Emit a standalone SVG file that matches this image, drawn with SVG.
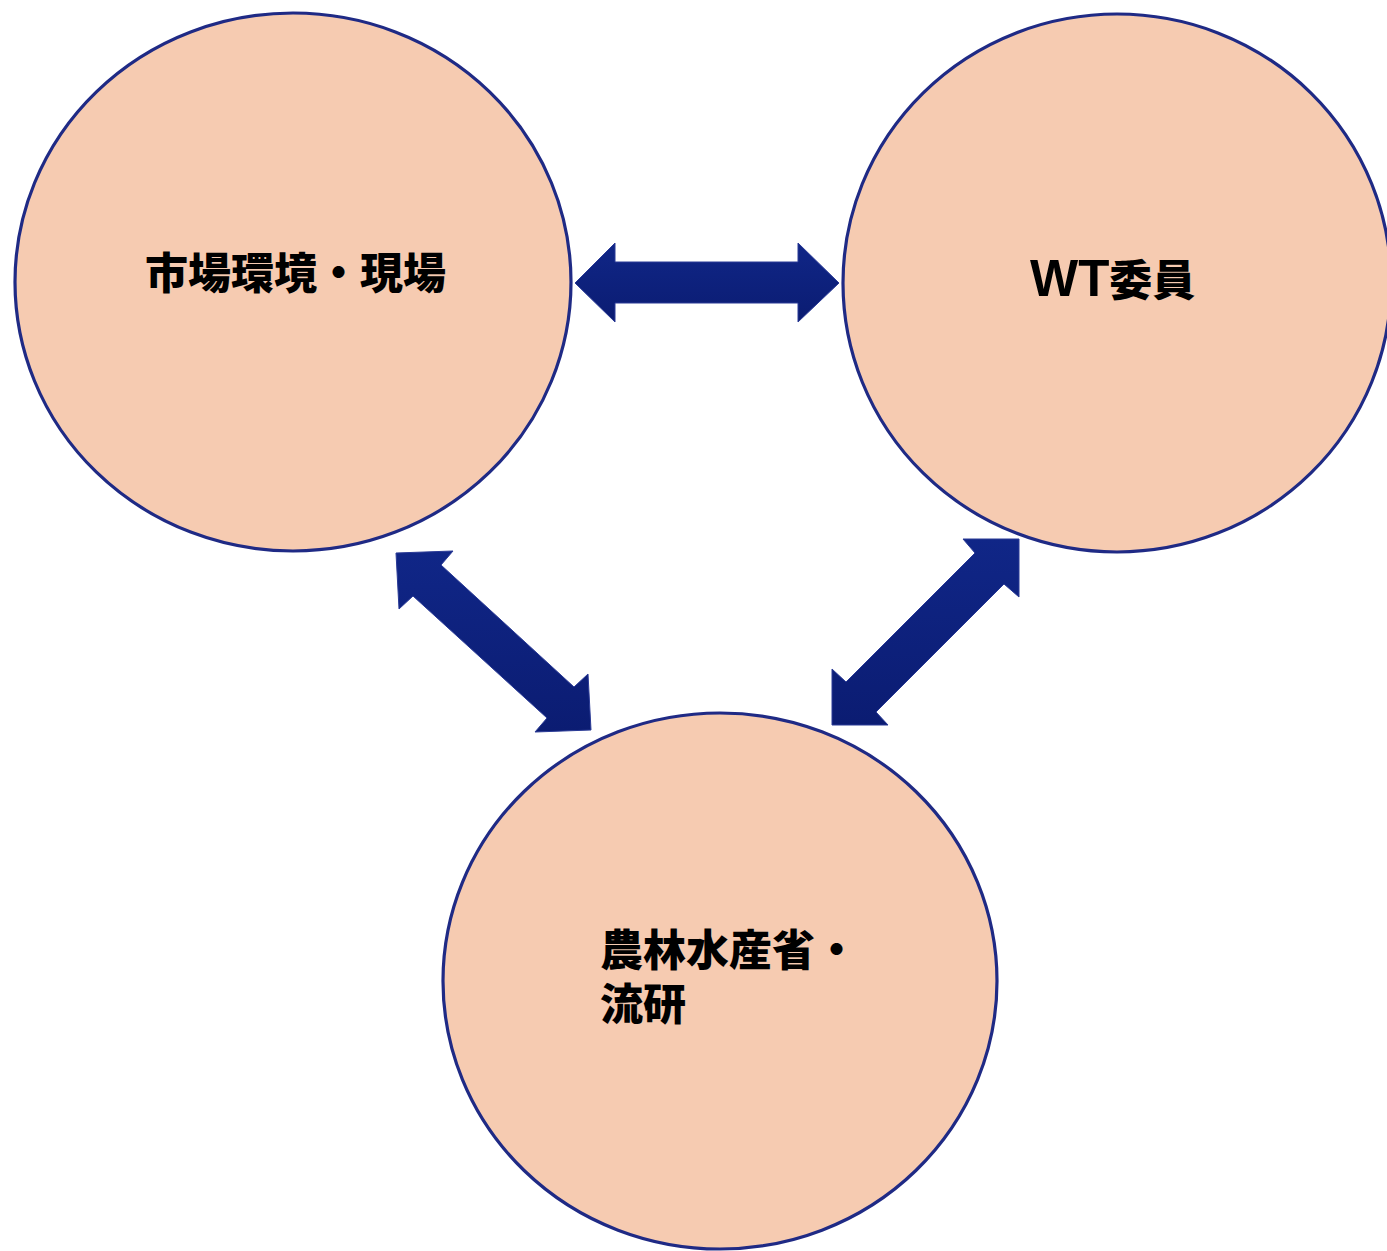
<svg xmlns="http://www.w3.org/2000/svg" width="1387" height="1251" viewBox="0 0 1387 1251">
<defs>
<linearGradient id="ag" x1="0" y1="0" x2="0" y2="1">
<stop offset="0" stop-color="#102687"/>
<stop offset="1" stop-color="#0b1c72"/>
</linearGradient>
<style>
.node{fill:#f6cbb1;stroke:#1f2a85;stroke-width:3.2}
.lbl{font-family:"Noto Sans CJK JP","Noto Sans",sans-serif;font-weight:900;font-size:43px;fill:#000}
.lat{font-family:"Liberation Sans",Arial,sans-serif;font-weight:700;font-size:51px}
.arrow{fill:url(#ag);stroke:#2a3a96;stroke-width:1}
</style>
</defs>
<rect width="1387" height="1251" fill="#fff"/>
<g id="node-market">
<ellipse class="node" cx="293" cy="282" rx="278" ry="269"/>
<text class="lbl" x="145" y="289">市場環境・現場</text>
</g>
<g id="node-wt">
<ellipse class="node" cx="1117" cy="283" rx="274" ry="269"/>
<text class="lbl" x="1030" y="296"><tspan class="lat">WT</tspan>委員</text>
</g>
<g id="node-maff">
<ellipse class="node" cx="720" cy="981" rx="277" ry="268"/>
<text class="lbl" x="600" y="966">農林水産省・<tspan x="600" dy="54">流研</tspan></text>
</g>
<g id="connectors">
<polygon class="arrow" points="575,283 615,243 615,262 798,262 798,243 839,283 798,322 798,303 615,303 615,322"/>
<polygon class="arrow" points="396,553 453,551 441,565 574,687 588,674 591,730 535,732 547,718 413,596 399,609"/>
<polygon class="arrow" points="1019,539 963,539 975,553 846,682 832,669 832,725 888,725 876,712 1004,584 1019,597"/>
</g>
</svg>
